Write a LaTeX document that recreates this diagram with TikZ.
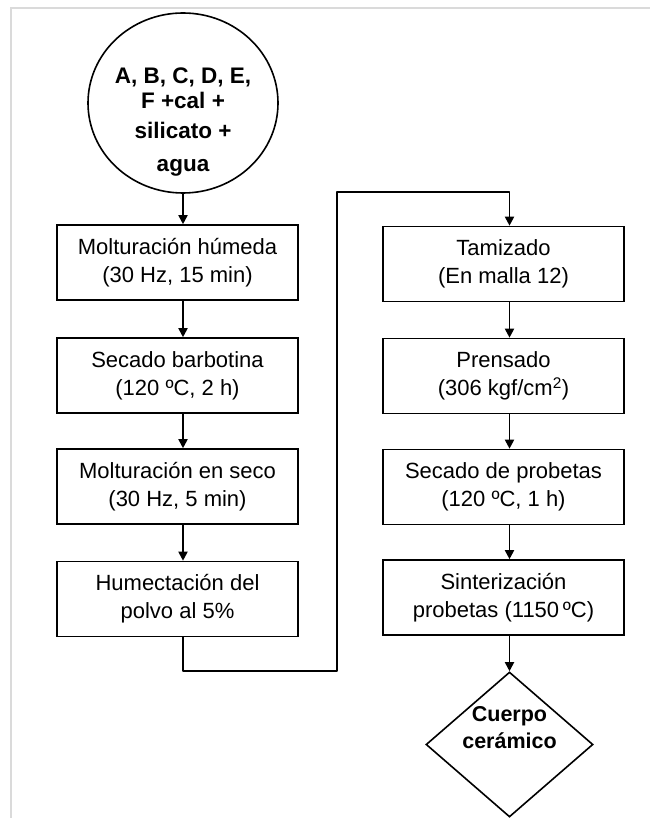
\documentclass[tikz,border=0pt]{standalone}
\usepackage{fontspec}
\setmainfont{Liberation Sans}
\usepackage{xcolor}
\usetikzlibrary{arrows.meta,shapes.geometric}

\definecolor{framegrey}{RGB}{218,218,218}

\begin{document}
\begin{tikzpicture}[x=1pt,y=1pt,yscale=-1,xscale=1,
    stepbox/.style={draw,line width=1.6pt,minimum width=241pt,minimum height=75pt,
      inner sep=0pt,align=center,font=\fontsize{22}{28}\selectfont},
    flow/.style={line width=1.8pt,-{Triangle[length=9pt,width=9pt]}},
    flowline/.style={line width=1.8pt}]
            \useasboundingbox (0,0) rectangle (650,818);
            %Shape: Frame
            \draw [color=framegrey,line width=1.5pt] (11,818) -- (11,8) -- (650,8) ;

            %Shape: Ellipse
            \node (mix) [draw,ellipse,line width=1.6pt,minimum width=190pt,minimum height=180pt] at (183,103) {};
            % Text Node
            \node (mixtext) [align=center,inner sep=0pt,font=\bfseries\fontsize{22.5}{25}\selectfont] at (183,122)
              {A, B, C, D, E,\\ F +cal +\\[5pt] silicato +\\[8pt] agua};

            %Shape: Rectangles, left column
            \node (molhum) [stepbox] at (177.5,262.5) {Molturación húmeda\\(30 Hz, 15 min)};
            \node (secbar) [stepbox] at (177.5,375.5) {Secado barbotina\\(120 ºC, 2 h)};
            \node (molsec) [stepbox] at (177.5,486.5) {Molturación en seco\\(30 Hz, 5 min)};
            \node (humect) [stepbox] at (177.5,599) {Humectación del\\polvo al 5\%};

            %Shape: Rectangles, right column
            \node (tamiz) [stepbox] at (503.5,264) {Tamizado\\(En malla 12)};
            \node (prens) [stepbox] at (503.5,376) {Prensado\\(306 kgf/cm\textsuperscript{2})};
            \node (secprob) [stepbox] at (503.5,487) {Secado de probetas\\(120 ºC, 1 h)};
            \node (sinter) [stepbox] at (503.5,597.5) {Sinterización\\probetas (1150\,ºC)};

            %Shape: Diamond
            \node (body) [draw,diamond,line width=1.6pt,inner sep=0pt,minimum width=167pt,minimum height=145pt,aspect=1.15] at (509.5,744.5) {};
            % Text Node
            \node (bodytext) [align=center,inner sep=0pt,font=\bfseries\fontsize{21.5}{27}\selectfont] at (509.5,728) {Cuerpo\\cerámico};

            % Connectors
            \coordinate (lowturn) at (337,671);
            \coordinate (highturn) at (337,192);
            \draw [flow] (mix) -- (mix |- molhum.north);
            \draw [flow] (molhum.south -| mix) -- (secbar.north -| mix);
            \draw [flow] (secbar.south -| mix) -- (molsec.north -| mix);
            \draw [flow] (molsec.south -| mix) -- (humect.north -| mix);
            \draw [flow,line join=round] (humect.south -| mix) |- (lowturn) -- (highturn) -| (tamiz.north -| body);
            \draw [flow] (tamiz.south -| body) -- (prens.north -| body);
            \draw [flow] (prens.south -| body) -- (secprob.north -| body);
            \draw [flow] (secprob.south -| body) -- (sinter.north -| body);
            \draw [flow] (sinter.south -| body) -- (body.north);
        \end{tikzpicture}
\end{document}
